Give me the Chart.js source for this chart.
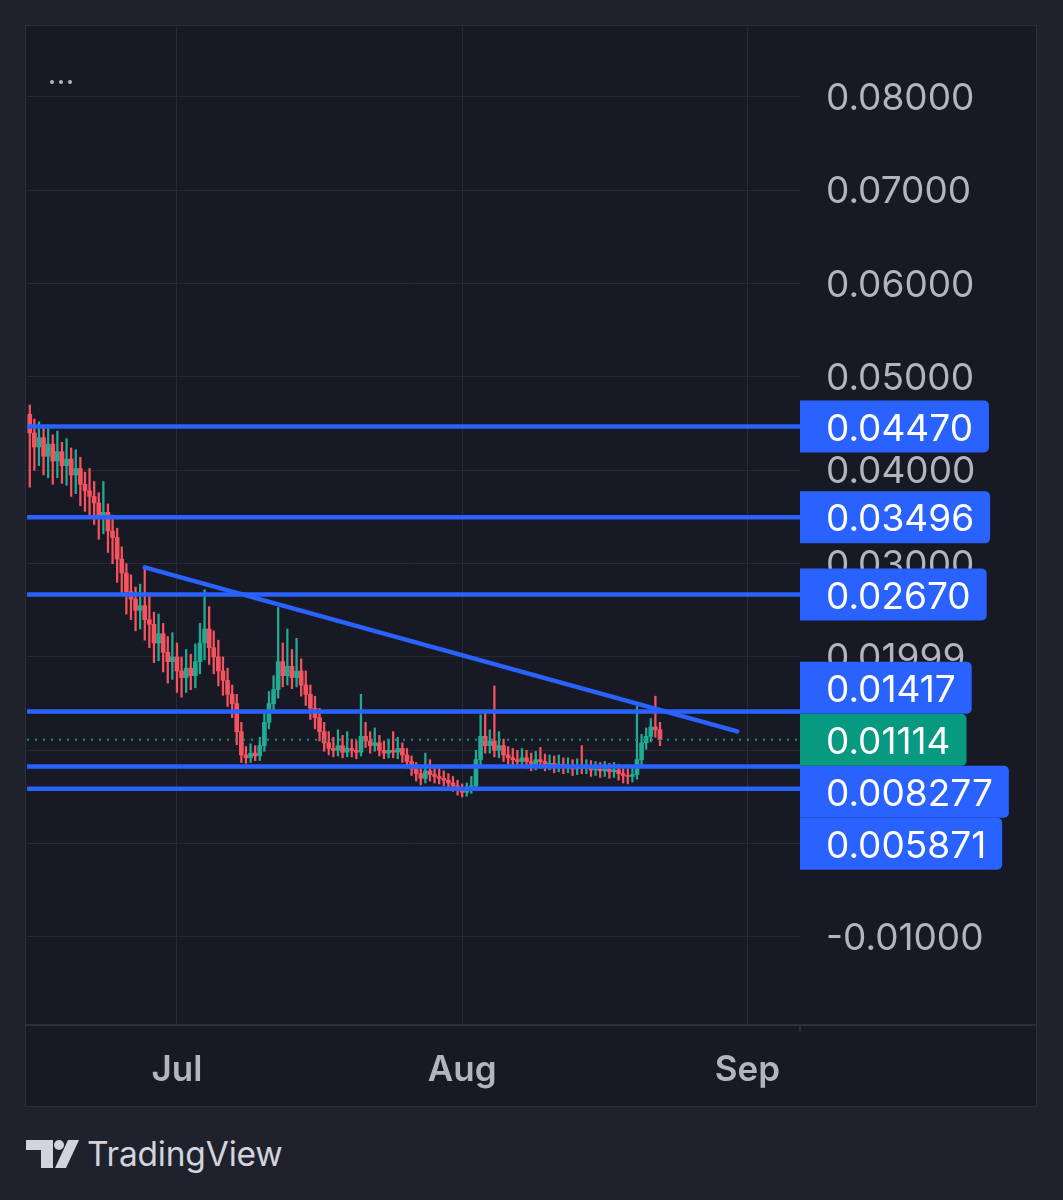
<!DOCTYPE html>
<html>
<head>
<meta charset="utf-8">
<script src="https://cdn.jsdelivr.net/npm/chart.js@4.4.1/dist/chart.umd.min.js"></script>
<style>
  html, body { margin: 0; padding: 0; }
  body { width: 1063px; height: 1200px; background: #1f222d; position: relative; overflow: hidden; font-family: Inter, "Noto Sans", sans-serif; }
  #panel { position: absolute; left: 25px; top: 25px; width: 1010px; height: 1080px; border: 1px solid #2b2f3b; background: #171a25; }
  #chart { position: absolute; left: 0; top: 0; }
  #dots { position: absolute; left: 24px; top: 54px; display: flex; gap: 5px; }
  #dots div { width: 4px; height: 4px; border-radius: 50%; background: #b2b5be; }
  #brand { position: absolute; left: 25px; top: 1134px; display: flex; align-items: center; }
  #brand span { font-family: Inter, sans-serif; font-size: 33.5px; color: #d1d4dc; margin-left: 8px; letter-spacing: -0.2px; }
</style>
</head>
<body>
<div id="panel">
  <canvas id="chart" width="1010" height="1080"></canvas>
  <div id="dots"><div></div><div></div><div></div></div>
</div>
<div id="brand">
  <svg width="54" height="30" viewBox="0 0 54 30">
    <path d="M1 1 H28 V29 H16 V11 H1 Z" fill="#d1d4dc"/>
    <circle cx="34" cy="6" r="5" fill="#d1d4dc"/>
    <path d="M43 1 H54 L41 29 H30 Z" fill="#d1d4dc"/>
  </svg>
  <span>TradingView</span>
</div>
<script>
// ---- data (12h candles, days counted from Jun 1) ----
const startDay = 14.0;   // Jun 15
const stepDays = 0.5;    // 12h candles

const opens = [
0.0460,0.0440,0.0425,0.0435,0.0415,0.0428,0.0410,0.0420,0.0405,0.0412,
0.0395,0.0402,0.0385,0.0378,0.0372,0.0365,0.0350,0.0355,0.0335,0.0328,
0.0305,0.0290,0.0270,0.0262,0.0250,0.0255,0.0240,0.0235,0.0215,0.0225,
0.0205,0.0195,0.0200,0.0185,0.0178,0.0188,0.0180,0.0195,0.0215,0.0230,
0.0210,0.0200,0.0185,0.0175,0.0160,0.0150,0.0120,0.0095,0.0092,0.0097,
0.0094,0.0105,0.0130,0.0150,0.0165,0.0195,0.0180,0.0190,0.0178,0.0185,
0.0170,0.0160,0.0145,0.0135,0.0120,0.0108,0.0102,0.0100,0.0105,0.0098,
0.0102,0.0100,0.0098,0.0115,0.0110,0.0105,0.0108,0.0100,0.0097,0.0100,
0.0098,0.0102,0.0095,0.0088,0.0080,0.0075,0.0070,0.0078,0.0074,0.0072,
0.0070,0.0068,0.0065,0.0062,0.0058,0.0055,0.0058,0.0062,0.0090,0.0115,
0.0105,0.0110,0.0100,0.0105,0.0095,0.0092,0.0090,0.0088,0.0092,0.0088,
0.0085,0.0090,0.0088,0.0085,0.0086,0.0083,0.0085,0.0082,0.0084,0.0080,
0.0083,0.0081,0.0082,0.0079,0.0080,0.0078,0.0080,0.0077,0.0079,0.0075,
0.0073,0.0072,0.0074,0.0090,0.0108,0.0115,0.0125,0.0122];

const highs = [
0.0470,0.0455,0.0452,0.0448,0.0445,0.0438,0.0442,0.0430,0.0434,0.0424,
0.0422,0.0414,0.0398,0.0402,0.0388,0.0376,0.0388,0.0364,0.0352,0.0338,
0.0318,0.0300,0.0288,0.0275,0.0278,0.0294,0.0265,0.0248,0.0246,0.0236,
0.0222,0.0226,0.0215,0.0200,0.0208,0.0203,0.0214,0.0236,0.0272,0.0254,
0.0228,0.0218,0.0200,0.0188,0.0170,0.0160,0.0130,0.0104,0.0107,0.0105,
0.0114,0.0140,0.0163,0.0180,0.0253,0.0215,0.0230,0.0208,0.0220,0.0198,
0.0185,0.0170,0.0158,0.0145,0.0130,0.0120,0.0114,0.0122,0.0116,0.0120,
0.0112,0.0110,0.0160,0.0130,0.0120,0.0124,0.0116,0.0110,0.0112,0.0120,
0.0114,0.0108,0.0102,0.0094,0.0087,0.0084,0.0097,0.0090,0.0084,0.0082,
0.0078,0.0075,0.0072,0.0068,0.0064,0.0065,0.0072,0.0100,0.0138,0.0142,
0.0122,0.0169,0.0120,0.0112,0.0104,0.0102,0.0100,0.0102,0.0100,0.0097,
0.0099,0.0103,0.0096,0.0095,0.0094,0.0095,0.0092,0.0092,0.0090,0.0091,
0.0105,0.0090,0.0089,0.0088,0.0087,0.0088,0.0086,0.0087,0.0085,0.0082,
0.0080,0.0082,0.0147,0.0117,0.0124,0.0134,0.0158,0.0130];

const lows = [
0.0382,0.0400,0.0405,0.0395,0.0392,0.0385,0.0392,0.0386,0.0384,0.0372,
0.0375,0.0362,0.0356,0.0352,0.0342,0.0326,0.0332,0.0312,0.0300,0.0280,
0.0266,0.0246,0.0240,0.0228,0.0230,0.0218,0.0210,0.0194,0.0196,0.0184,
0.0172,0.0176,0.0162,0.0157,0.0162,0.0165,0.0167,0.0182,0.0197,0.0192,
0.0182,0.0169,0.0159,0.0147,0.0135,0.0106,0.0087,0.0086,0.0087,0.0089,
0.0089,0.0099,0.0123,0.0140,0.0156,0.0168,0.0170,0.0166,0.0168,0.0158,
0.0148,0.0133,0.0123,0.0110,0.0099,0.0095,0.0093,0.0094,0.0092,0.0093,
0.0093,0.0091,0.0094,0.0103,0.0097,0.0099,0.0094,0.0091,0.0092,0.0092,
0.0091,0.0087,0.0081,0.0073,0.0067,0.0063,0.0065,0.0067,0.0065,0.0064,
0.0062,0.0059,0.0056,0.0052,0.0050,0.0051,0.0054,0.0057,0.0084,0.0097,
0.0097,0.0093,0.0092,0.0088,0.0085,0.0083,0.0081,0.0082,0.0081,0.0078,
0.0079,0.0081,0.0078,0.0079,0.0076,0.0077,0.0075,0.0076,0.0073,0.0074,
0.0075,0.0075,0.0072,0.0073,0.0071,0.0072,0.0070,0.0071,0.0068,0.0065,
0.0064,0.0066,0.0069,0.0084,0.0101,0.0109,0.0114,0.0105];

const closes = [
0.0440,0.0425,0.0435,0.0415,0.0428,0.0410,0.0420,0.0405,0.0412,0.0395,
0.0402,0.0385,0.0378,0.0372,0.0365,0.0350,0.0355,0.0335,0.0328,0.0305,
0.0290,0.0270,0.0262,0.0250,0.0255,0.0240,0.0235,0.0215,0.0225,0.0205,
0.0195,0.0200,0.0185,0.0178,0.0188,0.0180,0.0195,0.0215,0.0230,0.0210,
0.0200,0.0185,0.0175,0.0160,0.0150,0.0120,0.0095,0.0092,0.0097,0.0094,
0.0105,0.0130,0.0150,0.0165,0.0195,0.0180,0.0190,0.0178,0.0185,0.0170,
0.0160,0.0145,0.0135,0.0120,0.0108,0.0102,0.0100,0.0105,0.0098,0.0102,
0.0100,0.0098,0.0115,0.0110,0.0105,0.0108,0.0100,0.0097,0.0100,0.0098,
0.0102,0.0095,0.0088,0.0080,0.0075,0.0070,0.0078,0.0074,0.0072,0.0070,
0.0068,0.0065,0.0062,0.0058,0.0055,0.0058,0.0062,0.0090,0.0115,0.0105,
0.0110,0.0100,0.0105,0.0095,0.0092,0.0090,0.0088,0.0092,0.0088,0.0085,
0.0090,0.0088,0.0085,0.0086,0.0083,0.0085,0.0082,0.0084,0.0080,0.0083,
0.0081,0.0082,0.0079,0.0080,0.0078,0.0080,0.0077,0.0079,0.0075,0.0073,
0.0072,0.0074,0.0090,0.0108,0.0115,0.0125,0.0122,0.01114];

// horizontal levels drawn on the chart
const levelValues = [0.04470, 0.03496, 0.02670, 0.01417, 0.008277, 0.005871];
const levelLabels = ['0.04470', '0.03496', '0.02670', '0.01417', '0.008277', '0.005871'];
const lastPrice = 0.01114;
const lastPriceLabel = '0.01114';

// trend line (days from Jun 1, price)
const trendDays = [26.5, 90.9];
const trendPrices = [0.02960, 0.01203];

// axis ticks
const yTickValues = [-0.01, 0.00, 0.01, 0.02, 0.03, 0.04, 0.05, 0.06, 0.07, 0.08];
const yTickLabels = ['-0.01000', '0.00000', '0.01000', '0.01999', '0.03000', '0.04000', '0.05000', '0.06000', '0.07000', '0.08000'];
const xTickDays = [30, 61, 92];
const xTickLabels = ['Jul', 'Aug', 'Sep'];

// visible ranges
const xMin = 13.70, xMax = 97.72;
const yMin = -0.01943, yMax = 0.0875;

// ---- build datasets ----
const UP = '#22ab94', DOWN = '#f7525f', BLUE = '#2962ff', LASTC = '#089981';
const wickData = [], bodyData = [], candleColors = [];
for (let i = 0; i < closes.length; i++) {
  const x = startDay + i * stepDays;
  wickData.push({ x, y: [lows[i], highs[i]] });
  bodyData.push({ x, y: [opens[i], closes[i]] });
  candleColors.push(closes[i] >= opens[i] ? UP : DOWN);
}
const lineDs = (pts, color, width, extra) => Object.assign({
  type: 'line', data: pts, borderColor: color, borderWidth: width,
  pointRadius: 0, fill: false, tension: 0, order: 0
}, extra || {});

const datasets = [
  { type: 'bar', data: wickData, backgroundColor: candleColors, barThickness: 1.6, grouped: false, order: 3 },
  { type: 'bar', data: bodyData, backgroundColor: candleColors, barThickness: 4, minBarLength: 1, grouped: false, order: 2 },
  lineDs([{ x: xMin, y: lastPrice }, { x: xMax, y: lastPrice }], LASTC, 2, { borderDash: [2, 6], order: 1 })
];
levelValues.forEach(v => datasets.push(lineDs([{ x: xMin, y: v }, { x: xMax, y: v }], BLUE, 4.5)));
datasets.push(lineDs(trendDays.map((d, i) => ({ x: d, y: trendPrices[i] })), BLUE, 4.5, { borderCapStyle: 'round' }));

const FONT = 'Inter, "Noto Sans", sans-serif';
const LABEL_SIZE = 37;

const priceLabels = {
  id: 'priceLabels',
  afterDraw(chart) {
    const ctx = chart.ctx, ys = chart.scales.y, area = chart.chartArea;
    const H = 52;
    ctx.save();
    ctx.fillStyle = '#2b2f3b';
    ctx.fillRect(0, area.bottom - 1, chart.width, 2);
    ctx.fillRect(area.right - 1, area.bottom, 2, 6);

    const cur = { text: lastPriceLabel, color: LASTC, pos: ys.getPixelForValue(lastPrice) };
    const items = levelValues.map((v, i) => ({ text: levelLabels[i], color: BLUE, want: ys.getPixelForValue(v) }));
    const above = items.filter(it => it.want < cur.pos).sort((a, b) => b.want - a.want);
    const below = items.filter(it => it.want >= cur.pos).sort((a, b) => a.want - b.want);
    let p = cur.pos;
    above.forEach(it => { it.pos = Math.min(it.want, p - H); p = it.pos; });
    p = cur.pos;
    below.forEach(it => { it.pos = Math.max(it.want, p + H); p = it.pos; });

    ctx.font = LABEL_SIZE + 'px ' + FONT;
    ctx.textBaseline = 'middle';
    ctx.textAlign = 'left';
    [...items, cur].forEach(it => {
      const w = ctx.measureText(it.text).width + 26 + 16;
      const x0 = area.right, y0 = it.pos - H / 2;
      ctx.fillStyle = it.color;
      ctx.beginPath();
      ctx.roundRect(x0, y0, w, H, [0, 5, 5, 0]);
      ctx.fill();
      ctx.fillStyle = '#ffffff';
      ctx.fillText(it.text, x0 + 26, it.pos + 3);
    });
    ctx.restore();
  }
};

new Chart(document.getElementById('chart'), {
  type: 'bar',
  data: { datasets },
  plugins: [priceLabels],
  options: {
    responsive: false,
    animation: false,
    layout: { padding: { left: 1, top: 1, right: 0, bottom: 0 } },
    plugins: { legend: { display: false }, tooltip: { enabled: false } },
    scales: {
      x: {
        type: 'linear', min: xMin, max: xMax, offset: false,
        afterBuildTicks: s => { s.ticks = xTickDays.map(v => ({ value: v })); },
        afterFit: s => { s.height = 81; s.paddingLeft = 0; s.paddingRight = 0; },
        grid: { color: '#262a35', lineWidth: 1, drawTicks: false, offset: false },
        border: { display: false },
        ticks: {
          padding: 24, color: '#b2b5be', maxRotation: 0, autoSkip: false,
          font: { family: FONT, size: 35, weight: '600' },
          callback: v => xTickLabels[xTickDays.indexOf(v)]
        }
      },
      y: {
        type: 'linear', position: 'right', min: yMin, max: yMax,
        afterBuildTicks: s => { s.ticks = yTickValues.map(v => ({ value: v })); },
        afterFit: s => { s.width = 236; s.paddingTop = 0; s.paddingBottom = 0; },
        grid: { color: '#262a35', lineWidth: 1, drawTicks: false },
        border: { display: false },
        ticks: {
          padding: 26, color: '#b2b5be', crossAlign: 'near', autoSkip: false, labelOffset: 2,
          font: { family: FONT, size: LABEL_SIZE },
          callback: (v, i) => yTickLabels[i]
        }
      }
    }
  }
});
</script>
</body>
</html>
